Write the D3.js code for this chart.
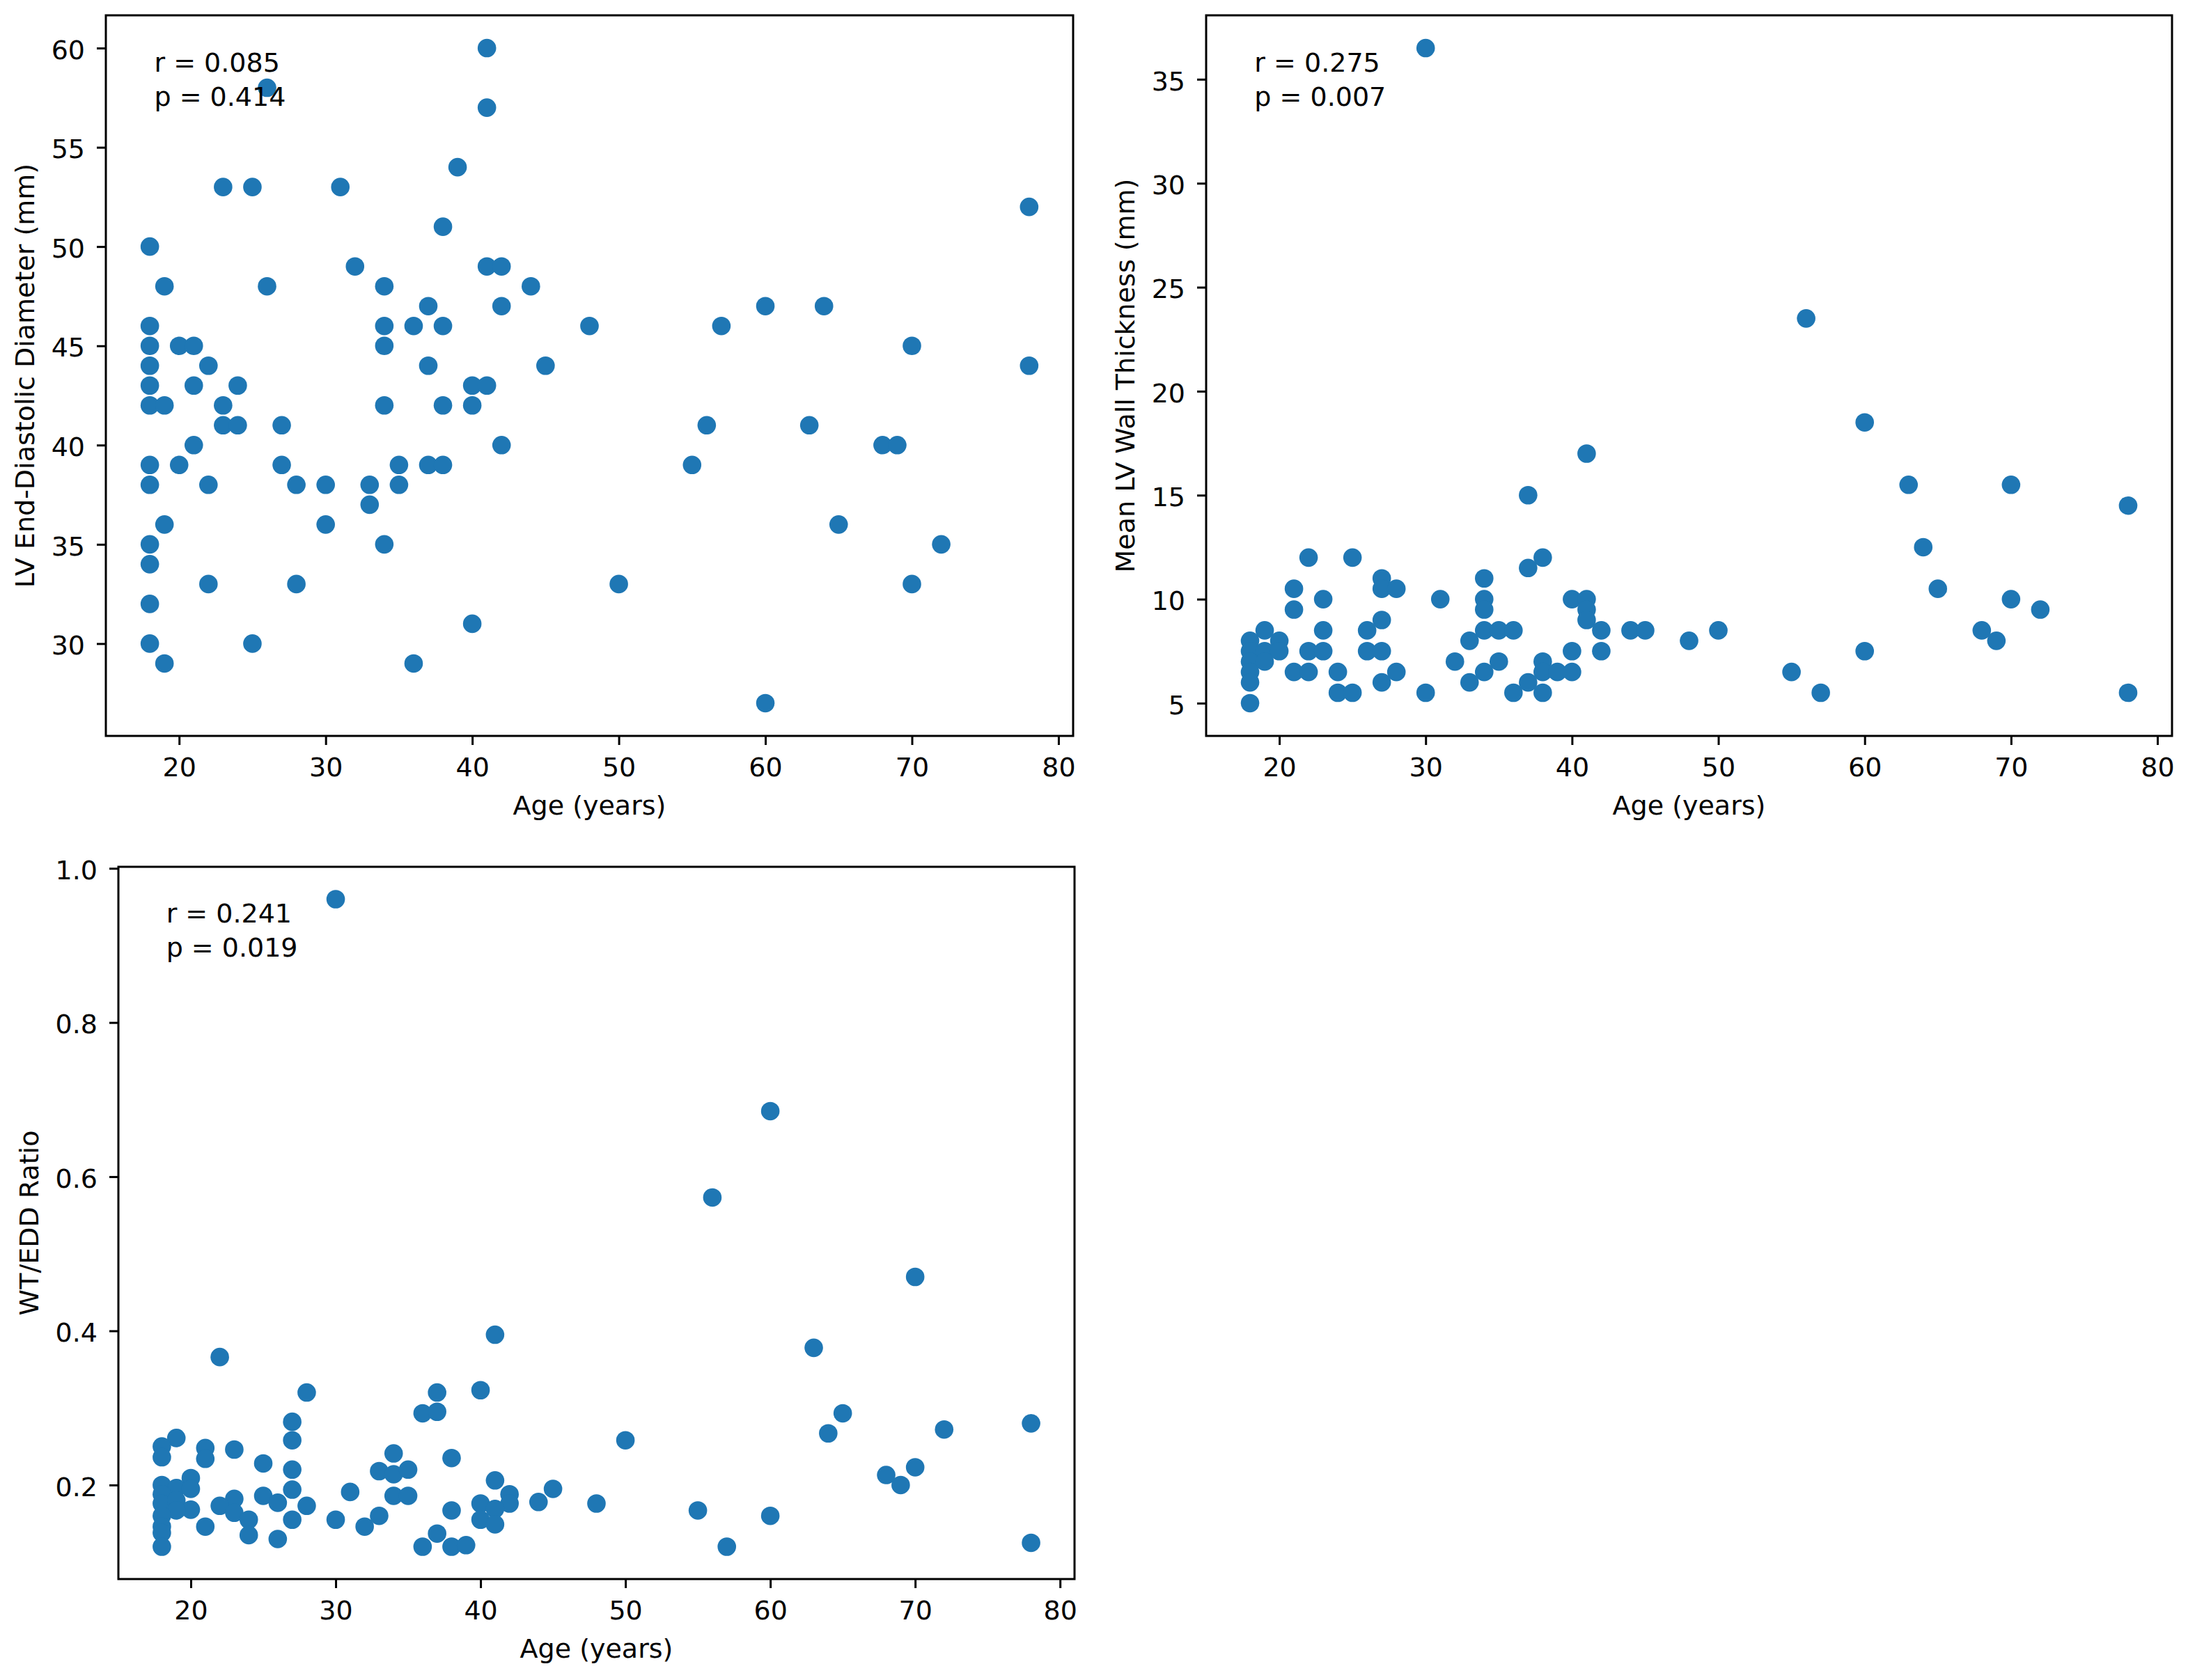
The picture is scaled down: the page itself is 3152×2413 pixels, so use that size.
<!DOCTYPE html>
<html lang="en">
<head>
    <meta charset="UTF-8">
    <title>Age scatter</title>
    <script src="https://d3js.org/d3.v7.min.js"></script>
    <style>
        body { margin: 0; background: #fff; }
        text { font-family: "DejaVu Sans", sans-serif; fill: #000; }
    </style>
</head>
<body>
    <svg class="chart"></svg>

    <script>
        // data
        const ageTicks = [20, 30, 40, 50, 60, 70, 80];
        const eddTicks = [30, 35, 40, 45, 50, 55, 60];
        const wtTicks = [5, 10, 15, 20, 25, 30, 35];
        const ratioTicks = [0.2, 0.4, 0.6, 0.8, 1.0];

        // LV end-diastolic diameter
        const eddAge = [41, 26, 41, 39, 23, 25, 31, 78, 38, 18,
            32, 41, 42, 19, 26, 34, 44, 37, 42, 60, 64,
            18, 34, 36, 38, 48, 57, 18, 20, 21, 34, 70,
            18, 22, 37, 45, 78, 18, 21, 24, 40, 41,
            18, 19, 23, 34, 38, 40, 23, 24, 27, 56, 63,
            21, 42, 68, 69, 18, 20, 27, 35, 37, 38, 55,
            18, 22, 28, 30, 33, 35, 33, 19, 30, 65,
            18, 34, 72, 18, 22, 28, 50, 70, 18, 40,
            18, 25, 19, 36, 60];
        const eddValue = [60, 58, 57, 54, 53, 53, 53, 52, 51, 50,
            49, 49, 49, 48, 48, 48, 48, 47, 47, 47, 47,
            46, 46, 46, 46, 46, 46, 45, 45, 45, 45, 45,
            44, 44, 44, 44, 44, 43, 43, 43, 43, 43,
            42, 42, 42, 42, 42, 42, 41, 41, 41, 41, 41,
            40, 40, 40, 40, 39, 39, 39, 39, 39, 39, 39,
            38, 38, 38, 38, 38, 38, 37, 36, 36, 36,
            35, 35, 35, 34, 33, 33, 33, 33, 32, 31,
            30, 30, 29, 29, 27];

        // mean LV wall thickness
        const wtAge = [30, 56, 60, 41, 63, 70, 37, 78, 64,
            22, 25, 38, 37, 27, 34,
            21, 27, 28, 65,
            23, 31, 34, 40, 41, 70,
            21, 34, 41, 72,
            27, 41,
            19, 23, 26, 34, 35, 36, 42, 44, 45, 50, 68,
            18, 20, 33, 48, 69,
            18, 19, 20, 22, 23, 26, 27, 40, 42, 60,
            18, 19, 32, 35, 38,
            18, 21, 22, 24, 28, 34, 38, 39, 40, 55,
            18, 27, 33, 37,
            24, 25, 30, 36, 38, 57, 78,
            18];
        const wtValue = [36.5, 23.5, 18.5, 17, 15.5, 15.5, 15, 14.5, 12.5,
            12, 12, 12, 11.5, 11, 11,
            10.5, 10.5, 10.5, 10.5,
            10, 10, 10, 10, 10, 10,
            9.5, 9.5, 9.5, 9.5,
            9, 9,
            8.5, 8.5, 8.5, 8.5, 8.5, 8.5, 8.5, 8.5, 8.5, 8.5, 8.5,
            8, 8, 8, 8, 8,
            7.5, 7.5, 7.5, 7.5, 7.5, 7.5, 7.5, 7.5, 7.5, 7.5,
            7, 7, 7, 7, 7,
            6.5, 6.5, 6.5, 6.5, 6.5, 6.5, 6.5, 6.5, 6.5, 6.5,
            6, 6, 6, 6,
            5.5, 5.5, 5.5, 5.5, 5.5, 5.5, 5.5,
            5];

        // WT/EDD ratio
        const ratioAge = [30, 60, 56, 70, 41, 63, 22, 28, 37, 40,
            36, 37, 65, 27, 78, 72, 64, 19, 27, 50,
            18, 21, 23, 18, 21, 34, 38, 25, 27, 70,
            33, 34, 35, 68, 20, 41, 18, 69, 19, 45,
            27, 31, 20, 18, 42, 42, 25, 34, 35, 23,
            18, 19, 26, 40, 44, 48, 22, 28, 20, 19,
            38, 41, 55, 23, 18, 33, 60, 27, 30, 24,
            40, 18, 21, 32, 41, 37, 24, 18, 26, 18,
            36, 38, 39, 57, 78];
        const ratioValue = [0.96, 0.685, 0.573, 0.47, 0.395, 0.378, 0.366, 0.32, 0.32, 0.323,
            0.293, 0.295, 0.293, 0.282, 0.28, 0.272, 0.267, 0.261, 0.258, 0.258,
            0.25, 0.248, 0.246, 0.236, 0.234, 0.241, 0.235, 0.228, 0.22, 0.223,
            0.218, 0.214, 0.22, 0.213, 0.209, 0.206, 0.2, 0.2, 0.196, 0.195,
            0.194, 0.191, 0.195, 0.188, 0.188, 0.176, 0.186, 0.186, 0.186, 0.182,
            0.176, 0.18, 0.177, 0.176, 0.178, 0.176, 0.173, 0.173, 0.168, 0.167,
            0.167, 0.169, 0.167, 0.164, 0.16, 0.16, 0.16, 0.155, 0.155, 0.155,
            0.155, 0.146, 0.146, 0.146, 0.149, 0.137, 0.135, 0.138, 0.13, 0.12,
            0.12, 0.12, 0.122, 0.12, 0.125];

        const W = 3152, H = 2413;
        const dotColor = '#1f77b4';
        const fontSize = 38;

        const svg = d3.select('.chart')
            .attr('width', W)
            .attr('height', H);

        function panel(opt) {
            const { id, left, top, width, height, xs, ys, yDomain, yTicks, yFormat, yLabel, stats } = opt;

            const x = d3.scaleLinear().domain([15, 81]).range([0, width]);
            const y = d3.scaleLinear().domain(yDomain).range([height, 0]);

            const g = svg.append('g').attr('transform', `translate(${left},${top})`);

            g.append('clipPath').attr('id', 'clip' + id)
                .append('rect').attr('width', width).attr('height', height);

            // dots
            g.append('g').attr('clip-path', `url(#clip${id})`)
                .selectAll('circle')
                .data(xs.map((a, i) => [a, ys[i]]))
                .enter()
                .append('circle')
                .attr('cx', d => x(d[0]))
                .attr('cy', d => y(d[1]))
                .attr('r', 13.3)
                .attr('fill', dotColor);

            // x axis
            const xAxis = g.append('g')
                .attr('transform', `translate(0,${height})`)
                .call(d3.axisBottom(x).tickValues(ageTicks).tickSize(13).tickPadding(18));
            xAxis.select('.domain').remove();

            // y axis
            const yAxis = g.append('g')
                .call(d3.axisLeft(y).tickValues(yTicks).tickFormat(yFormat).tickSize(13).tickPadding(17));
            yAxis.select('.domain').remove();
            yAxis.selectAll('text').attr('dy', '0.4em');

            g.selectAll('.tick line').attr('stroke', '#000').attr('stroke-width', 3);
            g.selectAll('.tick text')
                .attr('fill', '#000')
                .style('font-size', fontSize + 'px')
                .style('font-family', '"DejaVu Sans", sans-serif');

            // frame
            g.append('rect')
                .attr('width', width)
                .attr('height', height)
                .attr('fill', 'none')
                .attr('stroke', '#000')
                .attr('stroke-width', 3);

            // labels
            g.append('text')
                .attr('x', width / 2)
                .attr('y', height + 113)
                .attr('text-anchor', 'middle')
                .style('font-size', fontSize + 'px')
                .text('Age (years)');

            let minX = 0;
            yAxis.selectAll('text').each(function () {
                const b = this.getBBox();
                minX = Math.min(minX, b.x);
            });
            const lx = minX - 25;
            g.append('text')
                .attr('transform', `translate(${lx},${height / 2}) rotate(-90)`)
                .attr('text-anchor', 'middle')
                .style('font-size', fontSize + 'px')
                .text(yLabel);

            // r / p annotation
            const tx = width * 0.05, ty = height * 0.05 + 29;
            g.append('text').attr('x', tx).attr('y', ty)
                .style('font-size', fontSize + 'px').text(stats[0]);
            g.append('text').attr('x', tx).attr('y', ty + 49)
                .style('font-size', fontSize + 'px').text(stats[1]);
        }

        panel({
            id: 1, left: 152, top: 22, width: 1389, height: 1035,
            xs: eddAge, ys: eddValue,
            yDomain: [25.35, 61.65], yTicks: eddTicks, yFormat: d3.format('d'),
            yLabel: 'LV End-Diastolic Diameter (mm)',
            stats: ['r = 0.085', 'p = 0.414']
        });

        panel({
            id: 2, left: 1732, top: 22, width: 1387, height: 1035,
            xs: wtAge, ys: wtValue,
            yDomain: [3.425, 38.075], yTicks: wtTicks, yFormat: d3.format('d'),
            yLabel: 'Mean LV Wall Thickness (mm)',
            stats: ['r = 0.275', 'p = 0.007']
        });

        panel({
            id: 3, left: 170, top: 1245, width: 1373, height: 1023,
            xs: ratioAge, ys: ratioValue,
            yDomain: [0.078, 1.002], yTicks: ratioTicks, yFormat: d3.format('.1f'),
            yLabel: 'WT/EDD Ratio',
            stats: ['r = 0.241', 'p = 0.019']
        });
    </script>
</body>
</html>
